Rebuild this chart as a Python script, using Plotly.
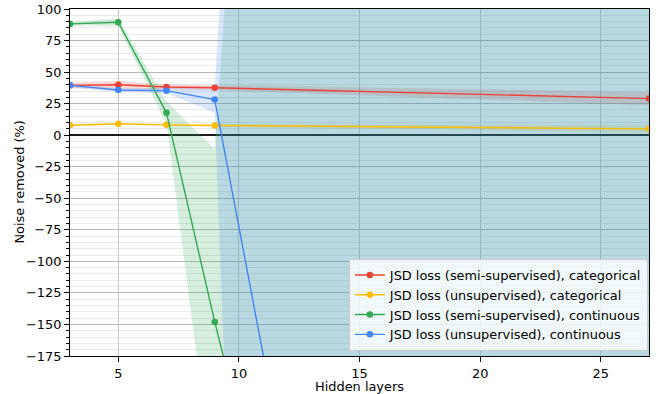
import plotly.graph_objects as go

# ---- data ----
hidden_layers = [3, 5, 7, 9, 27]

series_names = [
    "JSD loss (semi-supervised), categorical",
    "JSD loss (unsupervised), categorical",
    "JSD loss (semi-supervised), continuous",
    "JSD loss (unsupervised), continuous",
]

red_mean = [39.5, 40.0, 38.2, 37.6, 29.0]
red_std = [2.5, 3.0, 2.0, 2.0, 5.2]

yellow_mean = [7.9, 9.0, 8.2, 7.7, 5.0]
yellow_std = [1.0, 1.0, 1.0, 1.0, 3.0]

green_mean = [88.2, 89.5, 17.7, -148.0, -1516.0]
green_std = [1.5, 3.0, 9.0, 137.0, 6450.0]

blue_mean = [39.5, 35.8, 35.3, 28.2, -1785.0]
blue_std = [1.5, 1.5, 2.0, 10.5, 7400.0]

x_title = "Hidden layers"
y_title = "Noise removed (%)"

colors = ["#EA4335", "#FBBC04", "#34A853", "#4285F4"]
fills = ["rgba(234,67,53,0.2)", "rgba(251,188,4,0.2)", "rgba(52,168,83,0.2)", "rgba(66,133,244,0.2)"]

means = [red_mean, yellow_mean, green_mean, blue_mean]
stds = [red_std, yellow_std, green_std, blue_std]

FONT = "DejaVu Sans"
FS = 12.9

fig = go.Figure()

# shaded bands (mean +/- std)
for m, s, f in zip(means, stds, fills):
    upper = [a + b for a, b in zip(m, s)]
    lower = [a - b for a, b in zip(m, s)]
    fig.add_trace(go.Scatter(x=hidden_layers, y=upper, mode="lines", line=dict(width=0),
                             showlegend=False, hoverinfo="skip"))
    fig.add_trace(go.Scatter(x=hidden_layers, y=lower, mode="lines", line=dict(width=0),
                             fill="tonexty", fillcolor=f, showlegend=False, hoverinfo="skip"))

# mean lines
for name, m, c in zip(series_names, means, colors):
    fig.add_trace(go.Scatter(x=hidden_layers, y=m, mode="lines+markers", name=name,
                             line=dict(color=c, width=1.4),
                             marker=dict(color=c, size=6.5)))

fig.update_layout(
    width=659, height=394,
    margin=dict(l=70, r=10, t=9, b=38, autoexpand=False),
    paper_bgcolor="white", plot_bgcolor="white",
    font=dict(family=FONT, size=FS, color="black"),
    legend=dict(x=0.998, y=0.014, xanchor="right", yanchor="bottom",
                traceorder="normal",
                bgcolor="rgba(255,255,255,0.8)", bordercolor="#cccccc", borderwidth=1,
                font=dict(family=FONT, size=FS), tracegroupgap=0),
    annotations=[dict(text=y_title, xref="paper", yref="paper", x=-0.088, y=0.5,
                      xanchor="center", yanchor="middle", textangle=-90, showarrow=False,
                      font=dict(family=FONT, size=FS, color="black"))],
)

fig.update_xaxes(
    range=[3, 27], tickvals=[5, 10, 15, 20, 25], automargin=False,
    showgrid=True, gridcolor="#c8c8c8", gridwidth=1,
    showline=True, mirror=True, linecolor="black", linewidth=1.1,
    ticks="outside", ticklen=5, tickwidth=1.1, tickcolor="black",
    zeroline=False,
    title=dict(text=x_title, font=dict(family=FONT, size=FS), standoff=2),
)
fig.update_yaxes(
    range=[-175, 100], tick0=0, dtick=25, automargin=False,
    showgrid=True, gridcolor="#b8b8b8", gridwidth=1,
    minor=dict(dtick=5, showgrid=True, gridcolor="#eaeaea", ticks="outside",
               ticklen=2.8, tickcolor="black", tickwidth=0.8),
    showline=True, mirror=True, linecolor="black", linewidth=1.1,
    ticks="outside", ticklen=5, tickwidth=1.1, tickcolor="black",
    zeroline=True, zerolinecolor="#1a1a1a", zerolinewidth=1.6,
)

fig.write_html("out.html")
